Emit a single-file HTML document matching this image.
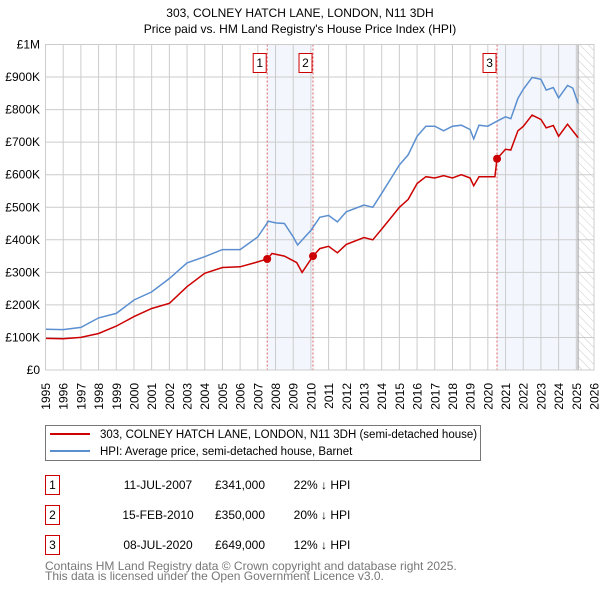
<!DOCTYPE html>
<html><head><meta charset="utf-8"><style>
body{margin:0;background:#fff;}
svg{display:block;font-family:"Liberation Sans","DejaVu Sans",sans-serif;}
</style></head><body>
<svg id="chart" width="600" height="590" viewBox="0 0 600 590">
<defs><pattern id="hatch" width="6" height="6" patternUnits="userSpaceOnUse" patternTransform="rotate(-45)"><line x1="0" y1="0" x2="0" y2="6" stroke="#ccc" stroke-width="1"/></pattern></defs>
<text x="300" y="17" text-anchor="middle" font-size="12" fill="#000">303, COLNEY HATCH LANE, LONDON, N11 3DH</text>
<text x="300" y="33" text-anchor="middle" font-size="12" fill="#000">Price paid vs. HM Land Registry's House Price Index (HPI)</text>
<g id="plot"></g>
<g>
<rect x="45.5" y="425.5" width="435" height="35" fill="#fff" stroke="#777"/>
<line x1="50" y1="434" x2="90" y2="434" stroke="#cc0000" stroke-width="2"/>
<text x="100" y="438" font-size="11.5">303, COLNEY HATCH LANE, LONDON, N11 3DH (semi-detached house)</text>
<line x1="50" y1="451" x2="90" y2="451" stroke="#5b8fd0" stroke-width="2"/>
<text x="100" y="455" font-size="11.5">HPI: Average price, semi-detached house, Barnet</text>
</g>
<g font-size="12">
<rect x="45.5" y="475.5" width="14" height="19" fill="#fff" stroke="#cc0000"/><text x="52.5" y="489" text-anchor="middle">1</text>
<text x="158" y="489" text-anchor="middle">11-JUL-2007</text><text x="240" y="489" text-anchor="middle">£341,000</text><text x="322" y="489" text-anchor="middle">22% ↓ HPI</text>
<rect x="45.5" y="505.5" width="14" height="19" fill="#fff" stroke="#cc0000"/><text x="52.5" y="519" text-anchor="middle">2</text>
<text x="158" y="519" text-anchor="middle">15-FEB-2010</text><text x="240" y="519" text-anchor="middle">£350,000</text><text x="322" y="519" text-anchor="middle">20% ↓ HPI</text>
<rect x="45.5" y="535.5" width="14" height="19" fill="#fff" stroke="#cc0000"/><text x="52.5" y="549" text-anchor="middle">3</text>
<text x="158" y="549" text-anchor="middle">08-JUL-2020</text><text x="240" y="549" text-anchor="middle">£649,000</text><text x="322" y="549" text-anchor="middle">12% ↓ HPI</text>
</g>
<text x="45" y="570" font-size="12" fill="#777">Contains HM Land Registry data © Crown copyright and database right 2025.</text>
<text x="45" y="580" font-size="12" fill="#777">This data is licensed under the Open Government Licence v3.0.</text>
</svg>
<script>
const hpiYears=[1995,1996,1997,1998,1999,2000,2001,2002,2003,2004,2005,2006,2007,2007.6,2008,2008.5,2009,2009.25,2010,2010.5,2011,2011.5,2012,2013,2013.5,2014,2015,2015.5,2016,2016.5,2017,2017.5,2018,2018.5,2019,2019.2,2019.5,2020,2020.5,2021,2021.3,2021.7,2022,2022.5,2023,2023.3,2023.7,2024,2024.5,2024.8,2025.1];
const hpiValues=[125,124,131,160,174,215,240,281,329,348,370,370,409,457,452,450,409,384,429,469,475,455,486,507,500,543,630,661,718,749,749,735,749,752,739,710,752,749,764,778,772,834,862,899,893,860,868,836,874,866,819];
const ppYears=[1995,1996,1997,1998,1999,2000,2001,2002,2003,2004,2005,2006,2007,2007.53,2007.8,2008.5,2009.2,2009.5,2010.12,2010.5,2011,2011.5,2012,2013,2013.5,2014,2015,2015.5,2016,2016.5,2017,2017.5,2018,2018.5,2019,2019.2,2019.5,2020,2020.4,2020.52,2021,2021.3,2021.7,2022,2022.5,2023,2023.3,2023.7,2024,2024.5,2025.1];
const ppValues=[97,96,100,112,135,164,189,205,256,297,315,317,332,341,358,350,330,300,350,373,380,360,386,407,400,433,500,524,573,594,590,597,590,600,590,566,594,594,594,649,678,676,735,748,783,770,744,751,718,755,714];
const saleYears=[2007.53,2010.12,2020.52];
const saleValues=[341,350,649];
const saleLabels=["1","2","3"];
const yTicks=[0,100,200,300,400,500,600,700,800,900,1000];
const yTickLabels=["£0","£100K","£200K","£300K","£400K","£500K","£600K","£700K","£800K","£900K","£1M"];
const xTicks=[1995,1996,1997,1998,1999,2000,2001,2002,2003,2004,2005,2006,2007,2008,2009,2010,2011,2012,2013,2014,2015,2016,2017,2018,2019,2020,2021,2022,2023,2024,2025,2026];
const X0=45.5,X1=594,Y0=370,Y1=44.5;
const xs=y=>X0+(y-1995)/(2026-1995)*(X1-X0);
const ys=v=>Y0-v/1000*(Y0-Y1);
const NS="http://www.w3.org/2000/svg";
const g=document.getElementById('plot');
function mk(t,a,p){const e=document.createElementNS(NS,t);for(const k in a)e.setAttribute(k,a[k]);(p||g).appendChild(e);return e;}
let r=mk('rect',{x:xs(saleYears[0]),y:Y1,width:xs(saleYears[1])-xs(saleYears[0]),height:Y0-Y1,fill:'#eef3fc',opacity:0.7});


r=mk('rect',{x:xs(saleYears[2]),y:Y1,width:xs(2025.1)-xs(saleYears[2]),height:Y0-Y1,fill:'#eef3fc',opacity:0.7});


r=mk('rect',{x:xs(2025.1),y:Y1,width:X1-xs(2025.1),height:Y0-Y1,fill:'url(#hatch)'});


yTicks.forEach((v,i)=>{
 const l=mk('line',{x1:X0,x2:X1,y1:ys(v),y2:ys(v),stroke:'#ccc','stroke-width':1});
 
 
 const t=mk('text',{x:40,y:ys(v)+4,'text-anchor':'end','font-size':12});
 t.textContent=yTickLabels[i];
 
 
});
xTicks.forEach(y=>{
 const l=mk('line',{x1:xs(y),x2:xs(y),y1:Y1,y2:Y0,stroke:'#ccc','stroke-width':1});
 
 
 const t=mk('text',{x:0,y:0,'font-size':12,'text-anchor':'end',transform:`translate(${xs(y)+4.5},383) rotate(-90)`});
 t.textContent=String(y);
 
 
});
r=mk('line',{x1:xs(2025.1),x2:xs(2025.1),y1:Y1,y2:Y0,stroke:'#999','stroke-width':1});


saleYears.forEach((y,i)=>{
 const l=mk('line',{x1:xs(y),x2:xs(y),y1:Y1,y2:Y0,stroke:'#e06060','stroke-width':1,'stroke-dasharray':'2,2'});
 
 
 const b=mk('rect',{x:xs(y)-14,y:53.5,width:13,height:19,fill:'#fff',stroke:'#cc0000'});
 
 
 const t=mk('text',{x:xs(y)-7.5,y:67,'text-anchor':'middle','font-size':12});
 t.textContent=saleLabels[i];
 
 
});
const pts=(xa,va)=>xa.map((y,i)=>xs(y).toFixed(1)+','+ys(va[i]).toFixed(1)).join(' ');
let p=mk('polyline',{points:pts(hpiYears,hpiValues),fill:'none',stroke:'#5b8fd0','stroke-width':1.5});


p=mk('polyline',{points:pts(ppYears,ppValues),fill:'none',stroke:'#cc0000','stroke-width':1.5});


saleYears.forEach((y,i)=>{
 const c=mk('circle',{cx:xs(y),cy:ys(saleValues[i]),r:4,fill:'#cc0000'});
 
 
});
r=mk('rect',{x:X0,y:Y1,width:X1-X0,height:Y0-Y1,fill:'none',stroke:'#ccc'});


</script>
</body></html>
